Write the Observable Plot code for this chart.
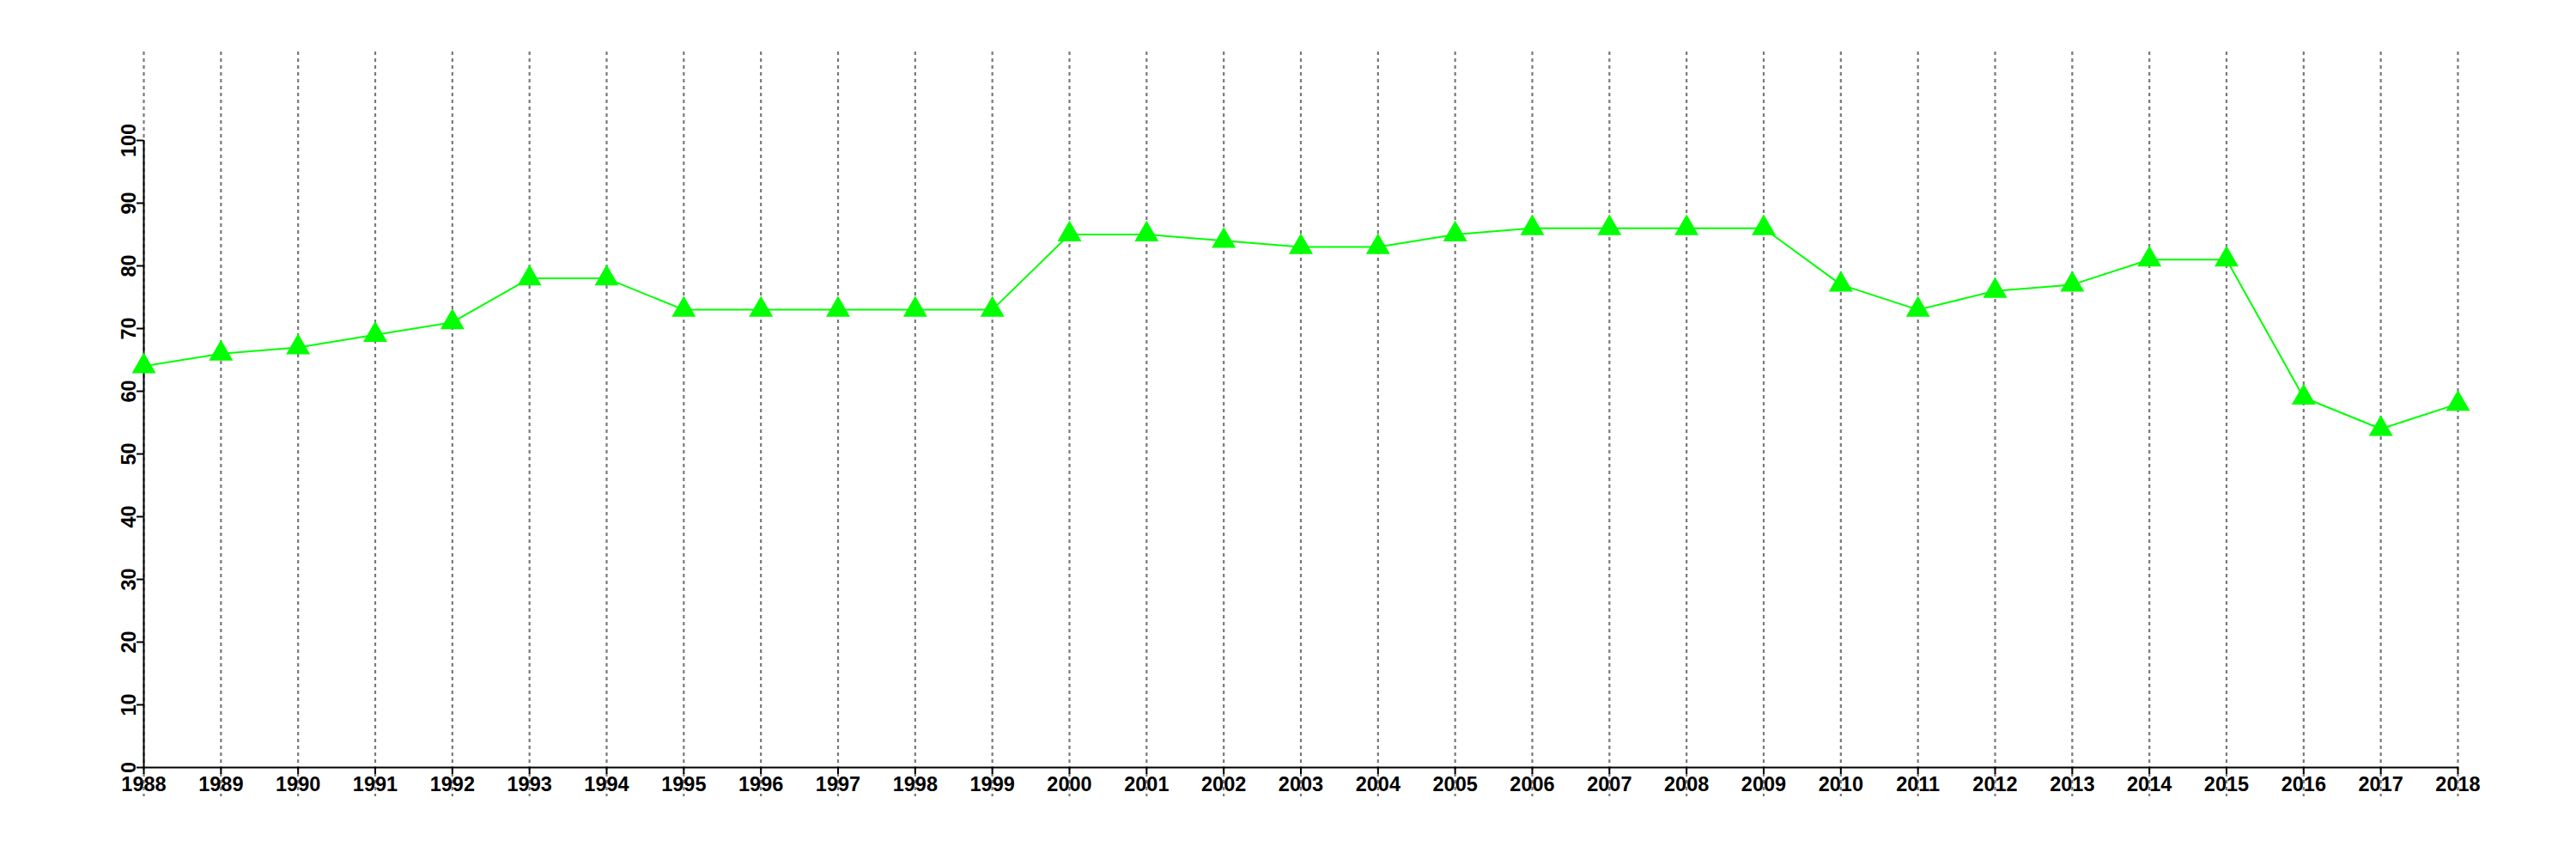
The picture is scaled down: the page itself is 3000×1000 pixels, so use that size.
<!DOCTYPE html>
<html>
<head>
<meta charset="utf-8">
<script src="https://cdn.jsdelivr.net/npm/d3@7"></script>
<script src="https://cdn.jsdelivr.net/npm/@observablehq/plot@0.6"></script>
<style>
  html, body { margin: 0; padding: 0; background: #fff; }
</style>
</head>
<body>
<div id="chart"></div>
<script>
const years = [1988, 1989, 1990, 1991, 1992, 1993, 1994, 1995, 1996, 1997, 1998, 1999, 2000, 2001, 2002, 2003, 2004, 2005, 2006, 2007, 2008, 2009, 2010, 2011, 2012, 2013, 2014, 2015, 2016, 2017, 2018];
const values = [64, 66, 67, 69, 71, 78, 78, 73, 73, 73, 73, 73, 85, 85, 84, 83, 83, 85, 86, 86, 86, 86, 77, 73, 76, 77, 81, 81, 59, 54, 58];
const yTicks = [0, 10, 20, 30, 40, 50, 60, 70, 80, 90, 100];
const yDomain = [0, 100];

const data = years.map((year, i) => ({year, value: values[i]}));

const chart = Plot.plot({
  width: 3000,
  height: 1000,
  marginLeft: 167,
  marginRight: 138,
  marginTop: 163,
  marginBottom: 107,
  style: {fontFamily: "'Liberation Sans', Arial, Helvetica, sans-serif", fontSize: "23px", fontWeight: "bold", color: "#000", background: "#fff"},
  x: {domain: [years[0], years[years.length - 1]]},
  y: {domain: yDomain},
  marks: [
    Plot.ruleX(years, {stroke: "#7a7a7a", strokeWidth: 2.2, strokeDasharray: "4,4", insetTop: -103, insetBottom: -34}),
    Plot.ruleY([yDomain[0]], {stroke: "#000", strokeWidth: 2}),
    Plot.ruleX([years[0]], {y1: yDomain[0], y2: yDomain[1], stroke: "#000", strokeWidth: 2}),
    Plot.axisX({ticks: years, tickFormat: d => String(d), tickSize: 8, tickPadding: 3, strokeWidth: 2, label: null, fontSize: 23.5, fontWeight: "bold"}),
    Plot.axisY({ticks: yTicks, tickSize: 8, tickPadding: 2, tickRotate: -90, strokeWidth: 2, label: null, fontSize: 23.5, fontWeight: "bold"}),
    Plot.line(data, {x: "year", y: "value", stroke: "#00ff00", strokeWidth: 2}),
    Plot.dot(data, {x: "year", y: "value", symbol: "triangle", r: 10.4, fill: "#00ff00", stroke: "none"})
  ]
});
document.getElementById("chart").appendChild(chart);
</script>
</body>
</html>
